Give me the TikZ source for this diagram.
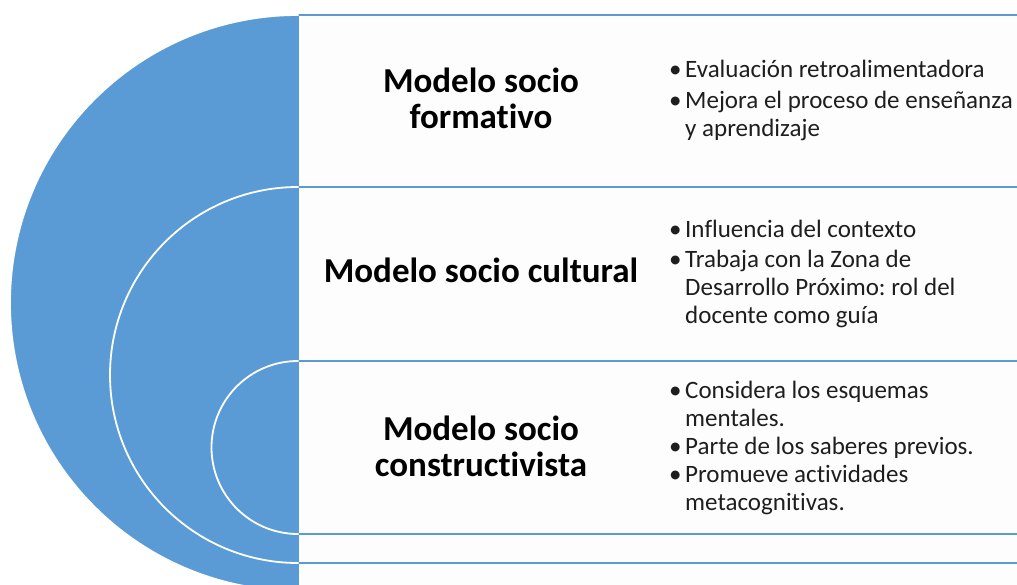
\documentclass[tikz,border=0pt]{standalone}
\usepackage{fontspec}
\setmainfont{Carlito}[Ligatures=NoCommon]
\definecolor{sablue}{HTML}{5B9BD5}
\definecolor{boxfill}{HTML}{FDFDFD}
\definecolor{txtgray}{HTML}{1E1E1E}
\newcommand{\bul}{\makebox[16pt][l]{•}}
\newcommand{\cont}{\hspace*{16pt}}
\frenchspacing
\begin{document}
\begin{tikzpicture}[x=1pt,y=-1pt,
  panel/.style={draw=sablue, line width=1.6pt, fill=boxfill},
  ring/.style={circle, draw=white, line width=1.8pt, fill=sablue, inner sep=0pt, outer sep=0pt},
  title/.style={anchor=base, inner sep=0pt, font=\bfseries\fontsize{35}{36.5}\selectfont},
  list/.style={anchor=base west, inner sep=0pt, text=txtgray, font=\fontsize{25}{28}\selectfont}]
\useasboundingbox (0,0) rectangle (1017,585);
\clip (0,0) rectangle (1017,585);
% nested panels
\draw[panel] (298,15) rectangle (1040,591);
\draw[panel] (298,187) rectangle (1040,563);
\draw[panel] (298,361) rectangle (1040,534);
% nested half circles
\begin{scope}
  \clip (0,0) rectangle (298.5,600);
  \node[ring, minimum size=576pt] (outer) at (298,303) {};
  \node[ring, minimum size=376pt] (middle) at (298,375) {};
  \node[ring, minimum size=173pt] (inner) at (298,447.5) {};
\end{scope}
% titles
\node[title] (t1) at (481,92.5) {\parbox[t]{330pt}{\centering Modelo socio\\formativo}};
\node[title] (t2) at (481,283) {\parbox[t]{330pt}{\centering Modelo socio cultural}};
\node[title] (t3) at (481,440) {\parbox[t]{330pt}{\centering Modelo socio\\constructivista}};
% bullet lists
\node[list] (l1) at (669,78) {\parbox[t]{400pt}{\bul Evaluación retroalimentadora\\[3pt]\bul Mejora el proceso de enseñanza\\\cont y aprendizaje}};
\node[list] (l2) at (669,238) {\parbox[t]{400pt}{\bul Influencia del contexto\\[2pt]\bul Trabaja con la Zona de\\\cont Desarrollo Próximo: rol del\\\cont docente como guía}};
\node[list] (l3) at (669,398) {\parbox[t]{400pt}{\bul Considera los esquemas\\\cont mentales.\\\bul Parte de los saberes previos.\\\bul Promueve actividades\\\cont metacognitivas.}};
\end{tikzpicture}
\end{document}
